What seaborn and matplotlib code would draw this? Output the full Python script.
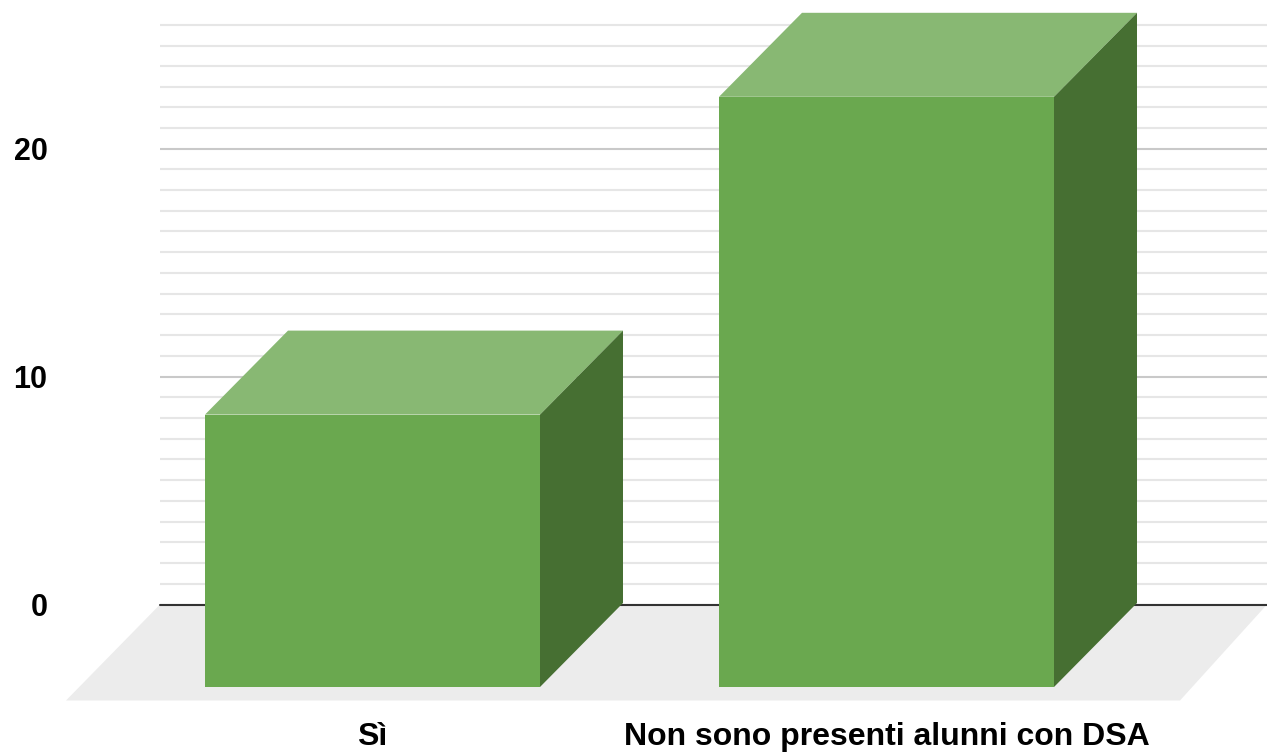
import matplotlib
matplotlib.use('Agg')
import matplotlib.pyplot as plt
from matplotlib.patches import Polygon
import numpy as np
import seaborn as sns

categories = ['Sì', 'Non sono presenti alunni con DSA']
values = [12, 26]
major_ticks = [0, 10, 20]

sns.set_style('white')
plt.rcParams['font.family'] = ['Liberation Sans', 'DejaVu Sans']

W, H = 1267, 755
fig = plt.figure(figsize=(W / 100, H / 100), dpi=100)

# parete di fondo: griglia e asse y
wall_y0 = 604.5
wall_scale = 22.8
ax_back = fig.add_axes([160 / W, 1 - wall_y0 / H, (W - 160) / W, wall_y0 / H])
ax_back.set_xlim(160, W)
ax_back.set_ylim(0, wall_y0 / wall_scale)
minor_ticks = np.concatenate([
    np.arange(1, 11) * 10 / 11,
    10 + np.arange(1, 11) * 10 / 11,
    20 + np.arange(1, 7) * 0.9,
])
ax_back.set_yticks(major_ticks)
ax_back.set_yticks(minor_ticks, minor=True)
ax_back.set_xticks([])
ax_back.grid(which='major', axis='y', color='#c9c9c9', lw=1.5)
ax_back.grid(which='minor', axis='y', color='#e6e6e6', lw=1.5)
ax_back.tick_params(axis='y', which='major', length=0, pad=81, labelsize=22)
ax_back.tick_params(axis='y', which='minor', length=0)
for lab in ax_back.get_yticklabels():
    lab.set_fontweight('bold')
    lab.set_color('#000000')
sns.despine(ax=ax_back, left=True, bottom=True)
ax_back.set_axisbelow(True)

# pavimento
floor_drop = 96 / wall_scale
ax_back.fill([160, W, 1180, 66], [0, 0, -floor_drop, -floor_drop],
             color='#ececec', lw=0, clip_on=False, zorder=1)
ax_back.axhline(0, color='#333333', lw=1.5, clip_on=False, zorder=2)

# barre
front_y0 = 687
front_scale = 22.7
cat_step = 514
ax_front = fig.add_axes([0, 1 - front_y0 / H, 1, front_y0 / H])
ax_front.patch.set_alpha(0)
sns.barplot(x=categories, y=values, color='#6aa84f', saturation=1,
            width=335 / cat_step, ax=ax_front, zorder=3, linewidth=0, edgecolor='none')
ax_front.set_xlim(-372.5 / cat_step, (W - 372.5) / cat_step)
ax_front.set_ylim(0, front_y0 / front_scale)
ax_front.set_yticks([])
ax_front.set_ylabel('')
ax_front.tick_params(axis='x', length=0, pad=25, labelsize=23)
for lab in ax_front.get_xticklabels():
    lab.set_fontweight('bold')
    lab.set_color('#000000')
sns.despine(ax=ax_front, left=True, bottom=True)

# facce laterali e superiori
dx = 83 / cat_step
dy = 84 / front_scale
for bar in ax_front.patches[:len(values)]:
    x0 = bar.get_x()
    x1 = x0 + bar.get_width()
    h = bar.get_height()
    ax_front.add_patch(Polygon([(x0, h), (x1, h), (x1 + dx, h + dy), (x0 + dx, h + dy)],
                               closed=True, facecolor='#88b873', edgecolor='none', lw=0, zorder=3))
    ax_front.add_patch(Polygon([(x1, 0), (x1 + dx, dy), (x1 + dx, h + dy), (x1, h)],
                               closed=True, facecolor='#466f32', edgecolor='none', lw=0, zorder=3))

fig.savefig('out.png', dpi=100)
plt.close(fig)
